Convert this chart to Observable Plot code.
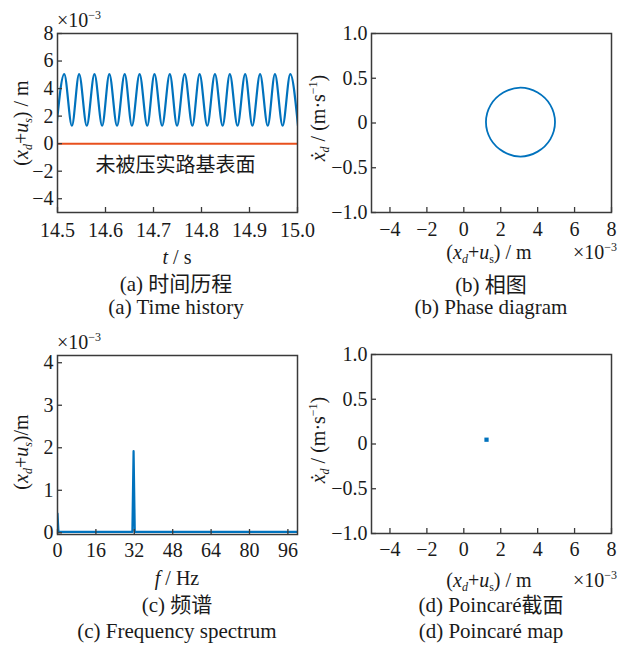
<!DOCTYPE html>
<html>
<head>
<meta charset="utf-8">
<script src="https://cdn.jsdelivr.net/npm/d3@7"></script>
<script src="https://cdn.jsdelivr.net/npm/@observablehq/plot@0.6"></script>
<style>
  html, body { margin: 0; padding: 0; background: #fff; }
  #root { position: relative; width: 627px; height: 646px; overflow: hidden; background: #fff;
          font-family: "Liberation Serif", "Times New Roman", "Noto Sans CJK SC", serif; color: #1a1a1a; }
  .panel { position: absolute; }
  .lab { position: absolute; white-space: nowrap; font-size: 20px; line-height: 1; transform: translate(-50%, -50%); }
  .cap { font-size: 21px; }
  .rot { transform: translate(-50%, -50%) rotate(-90deg); }
  .lab sub, .lab sup { font-size: 0.6em; line-height: 0; }
  .lab sub { vertical-align: -0.3em; }
  .lab sup { vertical-align: 0.7em; }
  .mul { position: absolute; white-space: nowrap; font-size: 20px; line-height: 1; transform: translateY(-50%); }
  .mul sup { font-size: 0.6em; vertical-align: 0.7em; line-height: 0; }
</style>
</head>
<body>
<div id="root"></div>
<script>
// ---------- data ----------
// (a) time history: extrema (t in s, displacement in 1e-3 m)
const timeT = [14.498, 14.514, 14.530, 14.545, 14.561, 14.577, 14.593, 14.608, 14.624, 14.640,
               14.655, 14.671, 14.687, 14.702, 14.718, 14.734, 14.749, 14.765, 14.781, 14.796,
               14.812, 14.828, 14.844, 14.859, 14.875, 14.891, 14.906, 14.922, 14.938, 14.953,
               14.969, 14.985, 15.001];
const timeDisp = [1.3, 5.05, 1.3, 5.05, 1.3, 5.05, 1.3, 5.05, 1.3, 5.05,
                  1.3, 5.05, 1.3, 5.05, 1.3, 5.05, 1.3, 5.05, 1.3, 5.05,
                  1.3, 5.05, 1.3, 5.05, 1.3, 5.05, 1.3, 5.05, 1.3, 5.05,
                  1.3, 5.05, 1.3];
const groundLevel = [0];
const groundText = "未被压实路基表面";
const groundTextPos = {t: 14.746, y: -1.6};
const timeTicks = [14.5, 14.6, 14.7, 14.8, 14.9, 15.0];
const dispTicksA = [-4, -2, 0, 2, 4, 6, 8];

// (b) phase diagram: points around the orbit
const phaseX = [4.94, 4.69, 4.00, 3.07, 2.14, 1.45, 1.20, 1.45, 2.14, 3.07, 4.00, 4.69];
const phaseV = [0.01, 0.20, 0.34, 0.395, 0.34, 0.20, 0.01, -0.18, -0.32, -0.375, -0.32, -0.18];
const phaseXTicks = [-4, -2, 0, 2, 4, 6, 8];
const velTicks = [-1, -0.5, 0, 0.5, 1];

// (c) frequency spectrum
const freq = [0, 0.4, 1, 31.2, 31.7, 32.2, 100];
const amp  = [0.45, 0.02, 0.02, 0.02, 1.92, 0.02, 0.02];
const freqTicks = [0, 16, 32, 48, 64, 80, 96];
const ampTicks = [0, 1, 2, 3, 4];

// (d) Poincaré map
const poincareX = [1.23];
const poincareV = [0.048];

// ---------- styles ----------
const BLUE = "#0072BD";
const ORANGE = "#E8501E";
const FRAME = "#3a3a3a";
const FONT = "'Liberation Serif', 'Times New Roman', serif";

const root = document.getElementById("root");

function place(node, left, top) {
  const wrap = document.createElement("div");
  wrap.className = "panel";
  wrap.style.left = left + "px";
  wrap.style.top = top + "px";
  wrap.appendChild(node);
  root.appendChild(wrap);
}
function label(html, cx, cy, rotate, cls) {
  const d = document.createElement("div");
  d.className = "lab" + (rotate ? " rot" : "") + (cls ? " " + cls : "");
  d.style.left = cx + "px";
  d.style.top = cy + "px";
  d.innerHTML = html;
  root.appendChild(d);
}
function mult(left, cy) {
  const d = document.createElement("div");
  d.className = "mul";
  d.style.left = left + "px";
  d.style.top = cy + "px";
  d.innerHTML = "×10<sup>−3</sup>";
  root.appendChild(d);
}

const common = {
  width: 313, height: 250,
  marginLeft: 57, marginRight: 16, marginTop: 33, marginBottom: 38,
  style: {fontFamily: FONT, fontSize: "20px", color: "#1a1a1a", background: "transparent", overflow: "visible"}
};
function axes(xTicks, yTicks, xFmt, yFmt, xPad) {
  return [
    Plot.axisX({ticks: xTicks, tickFormat: xFmt, tickSize: -5, tickPadding: xPad, label: null, stroke: FRAME, strokeWidth: 1.3, fill: "#1a1a1a"}),
    Plot.axisY({ticks: yTicks, tickFormat: yFmt, tickSize: -5, tickPadding: 9, label: null, stroke: FRAME, strokeWidth: 1.3, fill: "#1a1a1a"}),
    Plot.frame({stroke: FRAME, strokeWidth: 1.5})
  ];
}
const fmtInt = d3.format("d");
const fmtVel = d => d === 0 ? "0" : d3.format(".1f")(d);

// (a)
const timeData = timeT.map((t, i) => ({t, y: timeDisp[i]}));
place(Plot.plot({
  ...common,
  x: {domain: [14.5, 15.0]},
  y: {domain: [-5, 8]},
  marks: [
    Plot.ruleY(groundLevel, {stroke: ORANGE, strokeWidth: 2}),
    Plot.line(timeData, {x: "t", y: "y", curve: "monotone-x", stroke: BLUE, strokeWidth: 2.2, clip: true}),
    Plot.text([groundTextPos], {x: "t", y: "y", text: () => groundText, fontFamily: "Noto Sans CJK SC", fontSize: 20, fill: "#1a1a1a"}),
    ...axes(timeTicks, dispTicksA, d3.format(".1f"), fmtInt, 15)
  ]
}), 0, 0);

// (b)
const phaseData = phaseX.map((x, i) => ({x, v: phaseV[i]}));
place(Plot.plot({
  ...common,
  x: {domain: [-5, 8]},
  y: {domain: [-1, 1]},
  marks: [
    Plot.line(phaseData, {x: "x", y: "v", curve: "catmull-rom-closed", stroke: BLUE, strokeWidth: 1.8}),
    ...axes(phaseXTicks, velTicks, fmtInt, fmtVel, 14)
  ]
}), 314, 0);

// (c)
const specData = freq.map((f, i) => ({f, a: amp[i]}));
place(Plot.plot({
  ...common,
  x: {domain: [0, 100]},
  y: {domain: [-0.04, 4.17]},
  marks: [
    Plot.line(specData, {x: "f", y: "a", stroke: BLUE, strokeWidth: 2.2, clip: true}),
    ...axes(freqTicks, ampTicks, fmtInt, fmtInt, 13)
  ]
}), 0, 322);

// (d)
const poincareData = poincareX.map((x, i) => ({x, v: poincareV[i]}));
place(Plot.plot({
  ...common,
  x: {domain: [-5, 8]},
  y: {domain: [-1, 1]},
  marks: [
    Plot.dot(poincareData, {x: "x", y: "v", symbol: "square", r: 2.4, fill: BLUE, stroke: null}),
    ...axes(phaseXTicks, velTicks, fmtInt, fmtVel, 13)
  ]
}), 314, 321);

// ---------- text outside the plots ----------
const yDispLabelA = "(<i>x</i><sub><i>d</i></sub>+<i>u</i><sub><i>s</i></sub>) / m";
const yDispLabelC = "(<i>x</i><sub><i>d</i></sub>+<i>u</i><sub><i>s</i></sub>)/m";
const xDispLabel = "(<i>x</i><sub><i>d</i></sub>+<i>u</i><sub>s</sub>) / m";
const velLabel = "<i>ẋ</i><sub><i>d</i></sub> / (m·s<sup>−1</sup>)";

// (a)
label(yDispLabelA, 21, 123, true);
mult(57, 20);
label("<i>t</i> / s", 177, 257);
label("(a) 时间历程", 176, 284, false, "cap");
label("(a) Time history", 176, 307, false, "cap");

// (b)
label(velLabel, 318, 118, true);
label(xDispLabel, 489, 252);
mult(573, 252);
label("(b) 相图", 491, 285, false, "cap");
label("(b) Phase diagram", 491, 307, false, "cap");

// (c)
label(yDispLabelC, 21, 452, true);
mult(57, 342);
label("<i>f</i> / Hz", 177, 578);
label("(c) 频谱", 177, 605, false, "cap");
label("(c) Frequency spectrum", 177, 631, false, "cap");

// (d)
label(velLabel, 318, 440, true);
label(xDispLabel, 489, 580);
mult(573, 580);
label("(d) Poincaré截面", 491, 605, false, "cap");
label("(d) Poincaré map", 491, 631, false, "cap");
</script>
</body>
</html>
